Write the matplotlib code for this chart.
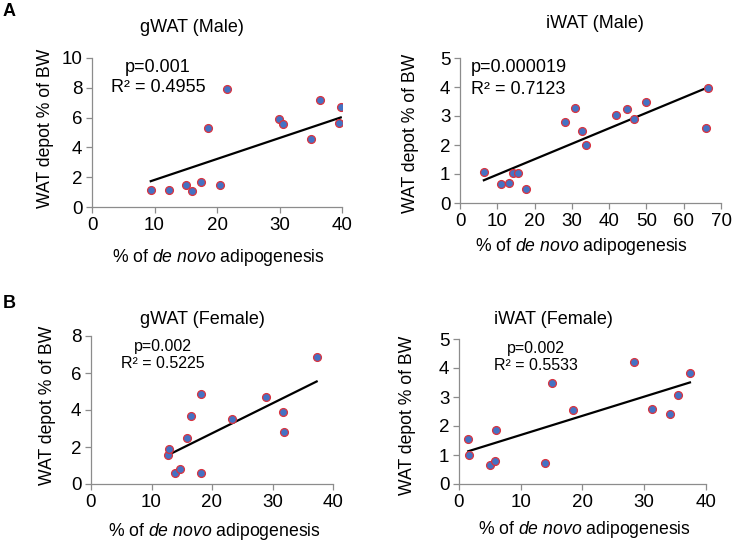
import numpy as np
import matplotlib
matplotlib.use("Agg")
import matplotlib.pyplot as plt

plt.rcParams['font.family'] = ['Liberation Sans', 'DejaVu Sans']
plt.rcParams['mathtext.fontset'] = 'custom'
plt.rcParams['mathtext.it'] = 'Liberation Sans:italic'
plt.rcParams['mathtext.rm'] = 'Liberation Sans'

# gWAT male
gm_x = [9.4, 12.3, 15.1, 16.0, 17.5, 18.5, 20.5, 21.6, 29.9, 30.5, 35.0, 36.5, 39.5, 39.8]
gm_y = [1.17, 1.17, 1.5, 1.1, 1.7, 5.33, 1.46, 7.9, 5.9, 5.57, 4.54, 7.2, 5.66, 6.7]
gm_trend = [0.1407, 0.41]   # slope, intercept read off the trendline
# iWAT male
im_x = [6.4, 11.0, 13.1, 14.3, 15.5, 17.7, 28.1, 30.9, 32.7, 33.7, 41.8, 44.8, 46.7, 49.8, 66.0, 66.5]
im_y = [1.06, 0.65, 0.68, 1.02, 1.02, 0.48, 2.79, 3.26, 2.47, 1.99, 3.03, 3.23, 2.89, 3.48, 2.60, 3.97]
im_trend = [0.0533, 0.444]
# gWAT female
gf_x = [12.7, 12.97, 13.9, 14.7, 15.9, 16.5, 18.2, 18.2, 23.3, 29.0, 31.8, 31.9, 37.3]
gf_y = [1.57, 1.88, 0.61, 0.79, 2.46, 3.67, 4.89, 0.58, 3.50, 4.71, 3.88, 2.82, 6.84]
gf_trend = [0.162, -0.50]
# iWAT female
if_x = [1.5, 1.57, 5.0, 5.8, 6.0, 13.9, 15.1, 18.5, 28.3, 31.3, 34.2, 35.5, 37.4]
if_y = [1.54, 1.0, 0.67, 0.79, 1.86, 0.72, 3.48, 2.54, 4.22, 2.57, 2.40, 3.06, 3.84]
if_trend = [0.0661, 1.03]

W, H = 733, 544
fig = plt.figure(figsize=(W / 100, H / 100), dpi=100)

def px(x, y):
    return x / W, 1 - y / H

def rect(x0, x1, ytop, ybot):
    return [x0 / W, 1 - ybot / H, (x1 - x0) / W, (ybot - ytop) / H]

panels = [
    # data, trend, axes box, x range, y range, title, stats, label positions (axes coords)
    (gm_x, gm_y, gm_trend, rect(92, 342, 58, 207), (0, 40, 10), (0, 10, 2),
     "gWAT (Male)", (192, 27), "p=0.001", "R² = 0.4955", (158, 67), (158, 88), 'center', 13,
     (0.504, -0.336), (-0.188, 0.53)),
    (im_x, im_y, im_trend, rect(460, 721, 58, 203), (0, 70, 10), (0, 5, 1),
     "iWAT (Male)", (595, 23), "p=0.000019", "R² = 0.7123", (471, 68), (471, 89), 'left', 13,
     (0.464, -0.303), (-0.19, 0.48)),
    (gf_x, gf_y, gf_trend, rect(91, 333, 336, 484), (0, 40, 10), (0, 8, 2),
     "gWAT (Female)", (202, 319), "p=0.002", "R² = 0.5225", (163, 346), (163, 364), 'center', 11.5,
     (0.512, -0.318), (-0.18, 0.53)),
    (if_x, if_y, if_trend, rect(459, 706, 339, 484), (0, 40, 10), (0, 5, 1),
     "iWAT (Female)", (553, 320), "p=0.002", "R² = 0.5533", (536, 349), (536, 366), 'center', 11.5,
     (0.51, -0.317), (-0.21, 0.47)),
]

for (xs, ys, tr, box, xr, yr, title, tpos, ptxt, rtxt, ppos, rpos, ha, sfs, xlc, ylc) in panels:
    ax = fig.add_axes(box)
    xs = np.array(xs)
    ys = np.array(ys)
    # linear trendline over the data range
    lx = np.array([xs.min(), xs.max()])
    ax.plot(lx, tr[0] * lx + tr[1], color='black', lw=1.6, zorder=2)
    ax.scatter(xs, ys, s=32, facecolor='#4472C4', edgecolor='#D9333F', linewidth=0.9, zorder=3)
    ax.set_xlim(xr[0], xr[1])
    ax.set_ylim(yr[0], yr[1])
    ax.set_xticks(np.arange(xr[0], xr[1] + 0.1, xr[2]))
    ax.set_yticks(np.arange(yr[0], yr[1] + 0.1, yr[2]))
    for s in ['top', 'right']:
        ax.spines[s].set_visible(False)
    for s in ['left', 'bottom']:
        ax.spines[s].set_color('#8c8c8c')
        ax.spines[s].set_linewidth(0.9)
    ax.tick_params(colors='#8c8c8c', labelcolor='black', labelsize=13.5, length=4, width=0.9, pad=3)
    ax.set_xlabel("% of $\\it{de\\ novo}$ adipogenesis", fontsize=12.7, va='center')
    ax.set_ylabel("WAT depot % of BW", fontsize=12.7, va='center')
    ax.xaxis.set_label_coords(*xlc)
    ax.yaxis.set_label_coords(*ylc)
    fig.text(*px(*tpos), title, fontsize=13, ha='center', va='center')
    fig.text(*px(*ppos), ptxt, fontsize=sfs, ha=ha, va='center')
    fig.text(*px(*rpos), rtxt, fontsize=sfs, ha=ha, va='center')

fig.text(*px(3, 11), "A", fontsize=13, fontweight='bold', va='center')
fig.text(*px(3, 303), "B", fontsize=13, fontweight='bold', va='center')

fig.savefig("out.png", dpi=100)
